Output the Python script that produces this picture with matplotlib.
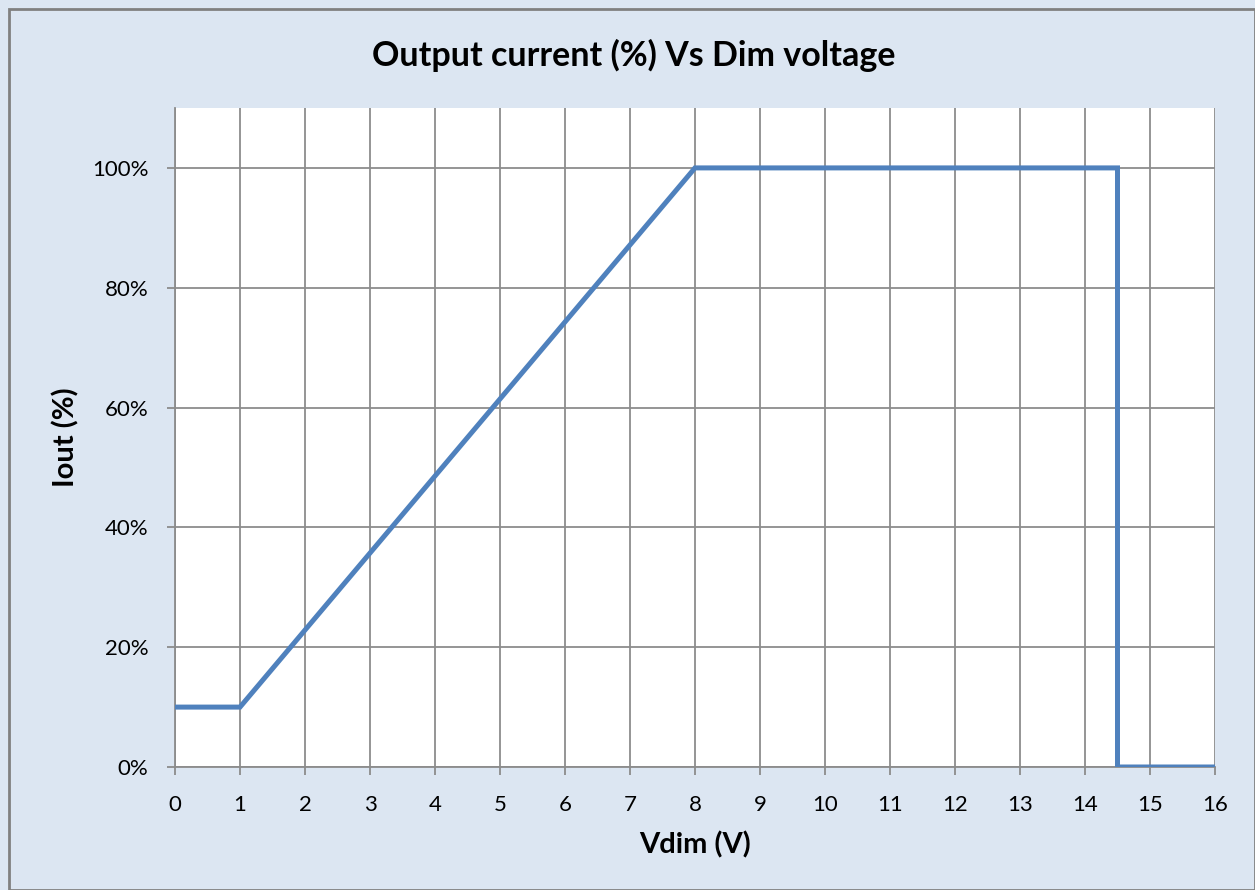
import matplotlib
matplotlib.use("Agg")
import matplotlib.pyplot as plt
from matplotlib.patches import Rectangle
from matplotlib.ticker import FuncFormatter

# =====================================
# DATA
# =====================================
vdim = [0, 1, 8, 14.5, 14.5, 16]
iout = [10, 10, 100, 100, 0, 0]

x_ticks = list(range(0, 17))
y_ticks = [0, 20, 40, 60, 80, 100]

# =====================================
# STYLE
# =====================================
plt.rcParams["font.family"] = ["Lato", "DejaVu Sans"]

bg_color = "#DCE6F2"
grid_color = "#8C8C8C"
line_color = "#4F81BD"

fig = plt.figure(figsize=(12.55, 8.9), dpi=100)
fig.patch.set_facecolor(bg_color)

# outer frame
fig.patches.append(
    Rectangle(
        (9 / 1255, 0), 1 - 9 / 1255, 1 - 9 / 890,
        transform=fig.transFigure,
        fill=False,
        edgecolor="#808080",
        linewidth=2
    )
)

ax = fig.add_axes([175 / 1255, 1 - 767 / 890, 1040 / 1255, 659 / 890])
ax.set_facecolor("white")

# =====================================
# PLOT
# =====================================
ax.plot(
    vdim,
    iout,
    color=line_color,
    linewidth=3.6,
    solid_joinstyle="miter",
    zorder=3
)

ax.set_xlim(0, 16)
ax.set_ylim(0, 110)

ax.set_xticks(x_ticks)
ax.set_yticks(y_ticks)
ax.yaxis.set_major_formatter(FuncFormatter(lambda v, p: f"{int(v)}%"))

ax.grid(True, color=grid_color, linewidth=1.3)
ax.set_axisbelow(True)

for side in ["top", "right"]:
    ax.spines[side].set_visible(False)
for side in ["left", "bottom"]:
    ax.spines[side].set_color(grid_color)
    ax.spines[side].set_linewidth(1.3)

ax.tick_params(
    axis="both",
    direction="out",
    length=6,
    width=1.3,
    color=grid_color,
    labelsize=16,
    labelcolor="black"
)
ax.tick_params(axis="x", pad=14)
ax.tick_params(axis="y", pad=13)

# =====================================
# TITLES
# =====================================
fig.text(
    634 / 1255, 1 - 55 / 890,
    "Output current (%) Vs Dim voltage",
    fontsize=24.5,
    fontweight="bold",
    ha="center",
    va="center"
)

ax.set_xlabel("Vdim (V)", fontsize=21, fontweight="bold")
ax.xaxis.set_label_coords(0.5, -0.097)

ax.set_ylabel("Iout (%)", fontsize=21, fontweight="bold")
ax.yaxis.set_label_coords(-0.092, 0.5)

fig.savefig("out.png", dpi=100, facecolor=bg_color)
